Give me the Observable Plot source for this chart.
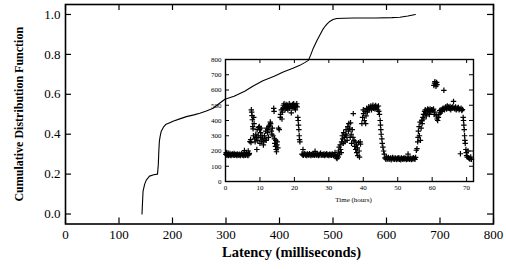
<!DOCTYPE html>
<html>
<head>
<meta charset="utf-8">
<script src="https://cdn.jsdelivr.net/npm/d3@7"></script>
<script src="https://cdn.jsdelivr.net/npm/@observablehq/plot@0.6"></script>
<style>
  html, body { margin: 0; padding: 0; background: white; }
  #wrap { position: relative; width: 506px; height: 269px; overflow: hidden; font-family: "Liberation Serif", serif; }
  #wrap svg { position: absolute; }
  #wrap svg text { font-family: "Liberation Serif", serif; }
</style>
</head>
<body>
<div id="wrap"></div>
<script>
// ---- Main CDF chart data ----
const latencyMs = [143,144,145,148,151,157,165,172,173.5,174.5,175.5,177,179,183,188,195,201,215,226,240,251,262,276,288,298,315,335,350,369,390,407,425,438,448,454,458,463,470,476,481,485,490,494,500,507,520,540,580,610,625,640,654];
const cdfValues = [0,0.06,0.115,0.15,0.17,0.19,0.197,0.2,0.25,0.32,0.365,0.39,0.415,0.435,0.45,0.458,0.465,0.478,0.488,0.497,0.505,0.515,0.53,0.555,0.575,0.59,0.615,0.64,0.668,0.69,0.712,0.73,0.745,0.76,0.77,0.795,0.83,0.87,0.9,0.925,0.94,0.955,0.965,0.975,0.98,0.981,0.982,0.982,0.984,0.986,0.992,1.0];
const xTicks = [0,100,200,300,400,500,600,700,800];
const yTicks = [0,0.2,0.4,0.6,0.8,1.0];

// ---- Inset time-series data (hours, latency ms) ----
const insetHours = [
0.1,0.2,0.3,0.4,0.6,0.8,0.9,1.1,1.3,1.5,1.6,1.8,2.0,2.2,2.4,2.5,2.7,2.9,3.1,3.3,3.4,3.6,3.8,4.0,4.2,4.3,4.5,4.7,4.9,5.1,5.3,5.4,5.5,5.6,5.8,6.0,6.1,6.3,6.5,6.6,6.8,6.9,
7.1,7.3,7.4,7.5,7.6,7.7,7.8,7.9,8.0,8.1,8.2,8.3,8.5,8.6,8.8,9.0,9.1,9.2,9.4,9.5,9.6,9.8,9.9,10.0,10.1,10.2,10.3,10.5,10.6,10.8,11.0,11.1,11.3,11.5,11.7,11.8,12.0,12.2,12.3,12.5,12.6,12.8,13.0,13.1,13.3,13.5,13.6,13.8,14.0,14.1,14.2,14.3,14.5,14.6,14.7,14.8,14.9,15.0,15.2,15.4,15.6,
15.9,16.0,16.2,16.4,16.5,16.7,16.8,17.0,17.1,17.3,17.4,17.6,17.8,18.0,18.1,18.3,18.5,18.6,18.8,19.0,19.1,19.3,19.5,19.6,19.8,20.0,20.2,20.3,20.5,20.7,20.8,21.0,21.1,21.2,21.3,21.4,21.5,21.6,
22.2,22.4,22.5,22.6,22.8,23.0,23.2,23.4,23.6,23.8,24.0,24.2,24.4,24.6,24.8,25.0,25.2,25.4,25.6,25.8,26.0,26.2,26.4,26.6,26.8,27.0,27.2,27.4,27.6,27.8,28.0,28.2,28.4,28.6,28.8,29.0,29.2,29.4,29.6,29.8,30.0,30.2,30.4,30.6,30.8,31.0,31.2,31.4,31.6,31.8,
32.0,32.2,32.4,32.5,32.7,32.8,33.0,33.1,33.3,33.4,33.6,33.7,33.9,34.0,34.2,34.3,34.5,34.7,34.8,35.0,35.2,35.3,35.5,35.7,35.8,36.0,36.2,36.3,36.5,36.6,36.8,37.0,37.1,37.3,37.5,37.6,37.8,38.0,38.1,38.3,38.4,38.6,38.8,38.9,39.1,39.2,
39.6,39.8,40.0,40.1,40.3,40.5,40.7,40.8,41.0,41.2,41.4,41.6,41.8,42.0,42.2,42.4,42.6,42.8,43.0,43.2,43.4,43.6,43.8,44.0,44.2,44.4,44.5,44.7,44.9,45.0,45.1,45.2,45.4,45.5,45.7,45.9,46.1,
46.3,46.5,46.7,46.9,47.1,47.3,47.5,47.7,47.9,48.1,48.3,48.5,48.7,48.9,49.1,49.3,49.5,49.7,49.9,50.1,50.3,50.5,50.7,50.9,51.1,51.3,51.5,51.7,51.9,52.1,52.3,52.5,52.7,52.9,53.0,53.2,53.4,53.6,53.8,54.0,54.2,54.4,54.6,54.8,55.0,55.2,
55.4,55.6,55.8,55.9,56.0,56.2,56.3,56.5,56.6,56.8,57.0,57.1,57.3,57.5,57.6,57.8,58.0,58.1,58.3,58.5,58.7,58.8,59.0,59.2,59.4,59.6,59.8,60.0,
60.5,60.7,60.8,61.0,61.1,61.3,61.4,
60.2,60.4,60.6,60.8,61.2,61.4,61.6,61.8,62.0,62.2,62.4,62.6,62.8,63.0,63.4,63.2,63.6,63.8,64.0,64.2,64.4,64.6,64.8,65.0,65.2,65.4,65.6,65.8,66.0,66.2,66.4,66.6,66.8,67.0,67.2,67.4,67.6,67.8,68.0,68.2,68.4,68.6,68.8,69.0,69.1,69.2,69.3,69.4,69.5,69.6,69.8,69.9,70.0,70.2,70.4,70.6,70.8,71.0,71.2,71.4
];
const insetLatency = [
178,190,182,172,176,180,171,175,183,174,170,177,181,173,176,184,172,178,175,171,180,176,173,179,174,170,177,182,173,176,171,186,203,175,172,178,190,174,171,200,176,185,
262,275,255,470,455,432,405,360,345,300,420,380,280,260,310,290,210,340,270,300,355,360,340,250,290,320,350,265,300,285,240,260,300,280,330,270,350,320,340,290,360,370,390,380,330,310,350,300,480,460,280,250,230,270,210,195,240,260,220,350,340,
420,440,470,410,455,480,500,510,490,470,495,505,480,500,470,490,510,480,495,500,450,480,505,490,510,485,500,470,495,510,490,420,400,370,340,300,275,260,
180,175,210,172,178,183,174,177,171,180,176,173,182,175,170,178,174,181,176,172,198,177,173,180,175,171,179,174,185,176,172,178,174,180,171,177,175,182,173,176,171,179,174,177,172,180,175,170,178,190,
165,155,150,170,160,200,225,180,240,210,190,260,300,280,250,320,290,260,310,340,300,270,360,330,380,350,290,385,310,250,340,290,445,270,230,260,210,240,190,220,170,255,200,160,260,245,
380,420,470,445,400,460,380,430,480,455,470,490,475,485,495,470,488,500,480,492,475,498,485,490,470,495,460,440,400,370,340,310,280,250,225,200,180,
155,148,160,145,152,158,146,150,155,143,151,157,147,152,145,155,150,144,153,148,156,146,151,143,154,149,145,152,147,155,150,144,153,148,180,151,146,155,149,144,152,147,156,150,145,158,
205,215,260,290,330,360,300,390,270,350,400,380,420,440,410,460,470,445,430,465,475,455,470,440,475,460,470,465,
630,645,655,640,625,650,635,
470,475,440,455,430,410,400,420,440,465,450,470,460,475,598,480,470,485,490,475,495,480,488,478,492,470,485,480,490,525,482,475,488,470,480,478,485,470,475,182,480,465,472,420,400,370,340,300,270,250,210,190,170,160,200,155,150,148,160,145
];
const insetXTicks = [0,10,20,30,40,50,60,70];
const insetYTicks = [0,100,200,300,400,500,600,700,800];

const FONT = "'Liberation Serif', serif";

// ---- Main chart ----
const mW = 506, mH = 269, mL = 65, mR = 13, mT = 4, mB = 45.5;
const mPlotH = mH - mT - mB, mPlotW = mW - mL - mR;
const cdfData = latencyMs.map((x, i) => ({x, y: cdfValues[i]}));
const tk = 6;

const main = Plot.plot({
  width: mW, height: mH,
  marginLeft: mL, marginRight: mR, marginTop: mT, marginBottom: mB,
  style: {fontFamily: FONT, fontSize: "13px", background: "transparent", color: "black"},
  x: {domain: [0, 800]},
  y: {domain: [-0.05, 1.05]},
  marks: [
    Plot.axisX(xTicks, {tickSize: 0, tickPadding: 6, label: null, fontSize: 13, fontFamily: FONT}),
    Plot.axisY(yTicks, {tickSize: 0, tickPadding: 5, label: null, fontSize: 13, fontFamily: FONT, tickFormat: d3.format(".1f")}),
    Plot.tickX(xTicks, {x: d => d, insetTop: mPlotH - tk, stroke: "black", strokeWidth: 1.2}),
    Plot.tickX(xTicks, {x: d => d, insetBottom: mPlotH - tk, stroke: "black", strokeWidth: 1.2}),
    Plot.tickY(yTicks, {y: d => d, insetRight: mPlotW - tk, stroke: "black", strokeWidth: 1.2}),
    Plot.tickY(yTicks, {y: d => d, insetLeft: mPlotW - tk, stroke: "black", strokeWidth: 1.2}),
    Plot.frame({stroke: "black", strokeWidth: 1.6}),
    Plot.line(cdfData, {x: "x", y: "y", stroke: "black", strokeWidth: 1.1}),
    Plot.text(["Latency (milliseconds)"], {frameAnchor: "bottom", textAnchor: "middle", lineAnchor: "middle", dy: 28.5, dx: 12, fontWeight: "bold", fontSize: 14.5, fontFamily: FONT}),
    Plot.text(["Cumulative Distribution Function"], {frameAnchor: "left", textAnchor: "middle", lineAnchor: "middle", dx: -46.5, rotate: -90, fontWeight: "bold", fontSize: 12, fontFamily: FONT})
  ]
});
main.style.left = "0px";
main.style.top = "0px";

// ---- Inset chart ----
const iW = 290, iH = 160, iL = 25, iR = 17, iT = 9, iB = 29;
const iPlotH = iH - iT - iB, iPlotW = iW - iL - iR;
const insetData = insetHours.map((h, i) => ({h, ms: insetLatency[i]}));
const itk = 4;

const inset = Plot.plot({
  width: iW, height: iH,
  marginLeft: iL, marginRight: iR, marginTop: iT, marginBottom: iB,
  style: {fontFamily: FONT, fontSize: "7px", background: "transparent", color: "black", overflow: "visible"},
  x: {domain: [0, 72]},
  y: {domain: [0, 800]},
  marks: [
    Plot.axisX(insetXTicks, {tickSize: 0, tickPadding: 3.5, label: null, fontSize: 7, fontFamily: FONT}),
    Plot.axisY(insetYTicks, {tickSize: 0, tickPadding: 4, label: null, fontSize: 7, fontFamily: FONT}),
    Plot.tickX(insetXTicks, {x: d => d, insetTop: iPlotH - itk, stroke: "black"}),
    Plot.tickX(insetXTicks, {x: d => d, insetBottom: iPlotH - itk, stroke: "black"}),
    Plot.tickY(insetYTicks, {y: d => d, insetRight: iPlotW - itk, stroke: "black"}),
    Plot.tickY(insetYTicks, {y: d => d, insetLeft: iPlotW - itk, stroke: "black"}),
    Plot.frame({stroke: "black", strokeWidth: 1.4}),
    Plot.dot(insetData, {x: "h", y: "ms", symbol: "plus", r: 1.9, stroke: "black", strokeWidth: 1.2}),
    Plot.text(["Time (hours)"], {frameAnchor: "bottom", textAnchor: "middle", lineAnchor: "middle", dy: 18, dx: 4, fontSize: 7, fontFamily: FONT})
  ]
});
inset.style.left = "200px";
inset.style.top = "50px";

const wrap = document.getElementById("wrap");
wrap.appendChild(inset);
wrap.appendChild(main);
</script>
</body>
</html>
